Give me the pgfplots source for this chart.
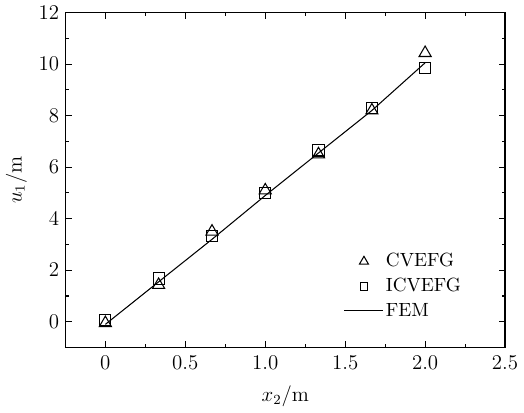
\documentclass[border=0pt]{standalone}
\usepackage{pgfplots}
\pgfplotsset{compat=1.18}
\pgfplotsset{
  markleg/.style={legend image code/.code={\draw[mark repeat=1,mark phase=1,##1] plot coordinates {(0.4cm,0cm)};}},
  lineleg/.style={legend image code/.code={\draw[##1] (0cm,0cm) -- (0.78cm,0cm);}},
}
\begin{document}
\begin{tikzpicture}
\begin{axis}[
  width=252pt, height=192pt, scale only axis,
  xmin=-0.25, xmax=2.5, ymin=-1, ymax=12,
  xtick={0,0.5,1,1.5,2,2.5},
  xticklabels={0,0.5,1.0,1.5,2.0,2.5},
  ytick={0,2,4,6,8,10,12},
  minor xtick={-0.25,0.25,0.75,1.25,1.75,2.25},
  minor ytick={-1,1,3,5,7,9,11},
  tick align=inside,
  major tick length=3.5pt, minor tick length=2pt,
  every tick/.style={black, line width=0.6pt},
  axis line style={line width=0.8pt},
  tick label style={font=\fontsize{12}{14}\selectfont},
  xticklabel style={yshift=-1.2pt},
  label style={font=\fontsize{12}{14}\selectfont},
  xlabel style={yshift=-2pt},
  xlabel={$x_2/\mathrm{m}$},
  ylabel={$u_1/\mathrm{m}$},
  legend style={draw=none, fill=none, at={(0.62,0.30)}, anchor=north west,
    font=\fontsize{10.95}{13}\selectfont, row sep=2pt,
    nodes={inner sep=1.5pt}},
  legend cell align=left,
]
\addplot[only marks, mark=triangle, mark size=4pt, black, line width=0.6pt,
  markleg, legend image post style={mark size=3pt}]
  coordinates {(0,-0.05) (0.333,1.43) (0.667,3.5) (1,5.1) (1.333,6.5) (1.667,8.2) (2,10.43)};
\addlegendentry{CVEFG}
\addplot[only marks, mark=square, mark size=3.2pt, black, line width=0.6pt,
  markleg, legend image post style={mark size=2.2pt}]
  coordinates {(0,0.07) (0.333,1.68) (0.667,3.33) (1,5.0) (1.333,6.65) (1.667,8.3) (2,9.86)};
\addlegendentry{ICVEFG}
\addplot[no marks, black, line width=0.6pt, lineleg]
  coordinates {(0,-0.1) (0.333,1.55) (0.667,3.2) (1,4.9) (1.333,6.55) (1.667,8.2) (2,10.05)};
\addlegendentry{FEM}
\end{axis}
\end{tikzpicture}
\end{document}
